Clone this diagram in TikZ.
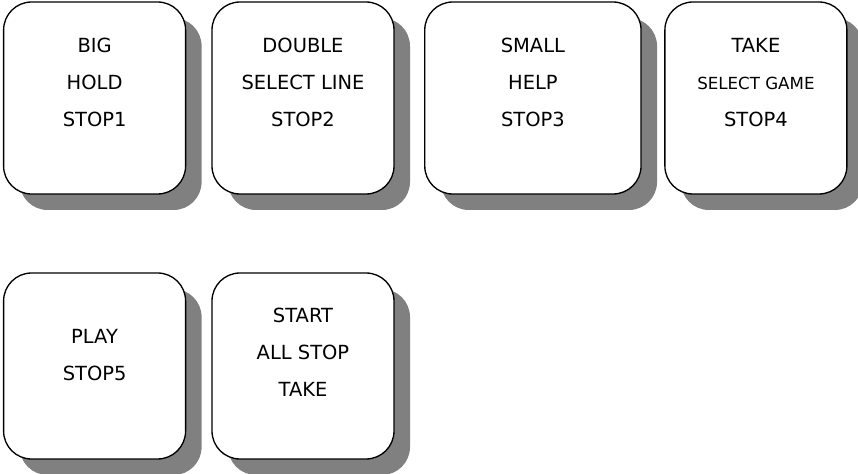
\documentclass[tikz,border=0pt]{standalone}
\usepackage{fontspec}
\setmainfont{DejaVu Sans}
\usetikzlibrary{shadows}
\begin{document}
\begin{tikzpicture}[x=0.75pt,y=-0.75pt,
  keybox/.style={draw=black, line width=1pt, fill=white, rounded corners=21pt, inner sep=0pt,
    minimum width=136.5pt, minimum height=144pt,
    drop shadow={shadow xshift=12pt, shadow yshift=-12pt, fill=black!50, opacity=1}},
  keytext/.style={anchor=north, inner sep=0pt, align=center, font=\fontsize{14.6}{27.75}\selectfont}]
\useasboundingbox (0,0) rectangle (858,474);
% row 1
\node[keybox] (b1) at (94.6,98) {};
\node[keybox] (b2) at (303,98) {};
\node[keybox, minimum width=162.2pt] (b3) at (532.9,98) {};
\node[keybox] (b4) at (755.9,98) {};
% row 2
\node[keybox, minimum height=139.5pt] (b5) at (94.6,366) {};
\node[keybox, minimum height=139.5pt] (b6) at (303,366) {};
% texts
\node[keytext] (t1) at (94.6,37.8) {BIG\\HOLD\\STOP1};
\node[keytext] (t2) at (303,37.8) {DOUBLE\\SELECT LINE\\STOP2};
\node[keytext] (t3) at (532.9,37.8) {SMALL\\HELP\\STOP3};
\node[keytext] (t4) at (755.9,37.8) {TAKE\\{\fontsize{12.5}{15}\selectfont SELECT GAME}\\STOP4};
\node[keytext] (t5) at (94.6,329.1) {PLAY\\STOP5};
\node[keytext] (t6) at (303,308.1) {START\\ALL STOP\\TAKE};
\end{tikzpicture}
\end{document}
